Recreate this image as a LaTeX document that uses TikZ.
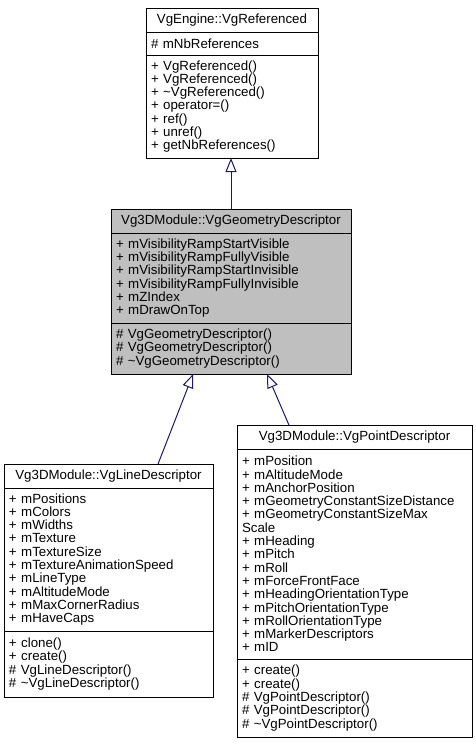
\documentclass[tikz,border=0pt]{standalone}
\usepackage{fontspec}
\setmainfont{Liberation Sans}
\usepackage{tikz}
\definecolor{edgeblue}{RGB}{25, 25, 112}
\definecolor{classgray}{RGB}{191, 191, 191}
\usetikzlibrary{arrows.meta,positioning,calc}

\begin{document}
\begin{tikzpicture}[
    x=1pt, y=-1pt,
    node distance=0pt,
    part/.style={
        rectangle,
        draw=black,
        line width=1pt,
        inner xsep=5pt,
        inner ysep=0pt,
        outer sep=0pt,
        font=\fontsize{13.3}{13.3}\selectfont
    },
    headpart/.style={part, align=center, minimum height=24pt},
    listpart/.style={part, align=left},
    inherit/.style={-{Triangle[open,length=14pt,width=11pt]},line width=1pt,edgeblue}
]
    \useasboundingbox (0,0) rectangle (476,744);

    % Base class
    \node[headpart, text width=162pt, anchor=north west] (basehead) at (146,8) {VgEngine::VgReferenced};
    \node[listpart, text width=162pt, minimum height=23pt, below=of basehead] (baseattr) {\# mNbReferences};
    \node[listpart, text width=162pt, minimum height=103pt, below=of baseattr] (baseops)
        {+ VgReferenced()\\+ VgReferenced()\\+ \textasciitilde VgReferenced()\\+ operator=()\\+ ref()\\+ unref()\\+ getNbReferences()};

    % Geometry descriptor
    \node[headpart, fill=classgray, text width=230pt, anchor=north west] (geomhead) at (111,209) {Vg3DModule::VgGeometryDescriptor};
    \node[listpart, fill=classgray, text width=230pt, minimum height=90pt, below=of geomhead] (geomattr)
        {+ mVisibilityRampStartVisible\\+ mVisibilityRampFullyVisible\\+ mVisibilityRampStartInvisible\\+ mVisibilityRampFullyInvisible\\+ mZIndex\\+ mDrawOnTop};
    \node[listpart, fill=classgray, text width=230pt, minimum height=51pt, below=of geomattr] (geomops)
        {\# VgGeometryDescriptor()\\\# VgGeometryDescriptor()\\\# \textasciitilde VgGeometryDescriptor()};

    % Line descriptor
    \node[headpart, text width=199pt, anchor=north west] (linehead) at (4,464) {Vg3DModule::VgLineDescriptor};
    \node[listpart, text width=199pt, minimum height=143pt, below=of linehead] (lineattr)
        {+ mPositions\\+ mColors\\+ mWidths\\+ mTexture\\+ mTextureSize\\+ mTextureAnimationSpeed\\+ mLineType\\+ mAltitudeMode\\+ mMaxCornerRadius\\+ mHaveCaps};
    \node[listpart, text width=199pt, minimum height=66pt, below=of lineattr] (lineops)
        {+ clone()\\+ create()\\\# VgLineDescriptor()\\\# \textasciitilde VgLineDescriptor()};

    % Point descriptor
    \node[headpart, text width=225pt, anchor=north west] (pointhead) at (237,425) {Vg3DModule::VgPointDescriptor};
    \node[listpart, text width=225pt, minimum height=210pt, below=of pointhead] (pointattr)
        {+ mPosition\\+ mAltitudeMode\\+ mAnchorPosition\\+ mGeometryConstantSizeDistance\\+ mGeometryConstantSizeMax\\Scale\\+ mHeading\\+ mPitch\\+ mRoll\\+ mForceFrontFace\\+ mHeadingOrientationType\\+ mPitchOrientationType\\+ mRollOrientationType\\+ mMarkerDescriptors\\+ mID};
    \node[listpart, text width=225pt, minimum height=78pt, below=of pointattr] (pointops)
        {+ create()\\+ create()\\\# VgPointDescriptor()\\\# VgPointDescriptor()\\\# \textasciitilde VgPointDescriptor()};

    % Inheritance
    \draw[inherit] (geomhead.north) -- (geomhead.north |- baseops.south);
    \draw[inherit] ($(linehead.north west)!0.737!(linehead.north east)$) -- ($(geomops.south west)!0.342!(geomops.south east)$);
    \draw[inherit] ($(pointhead.north west)!0.221!(pointhead.north east)$) -- ($(geomops.south west)!0.65!(geomops.south east)$);
\end{tikzpicture}
\end{document}
